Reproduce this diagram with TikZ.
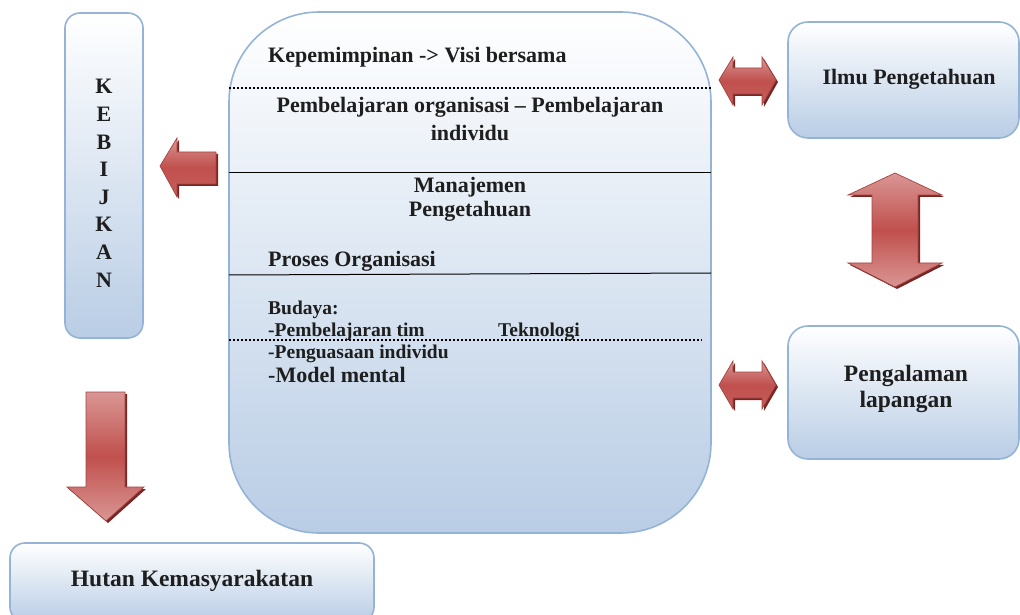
\documentclass[tikz,border=0pt]{standalone}
\usepackage{fontspec}
\setmainfont{Liberation Serif}
\usepackage{xcolor}
\usepackage{tikz}

\definecolor{boxedge}{RGB}{149,179,215}
\definecolor{boxblue}{RGB}{185,205,229}
\definecolor{arrowred}{RGB}{192,80,77}
\definecolor{arrowlight}{RGB}{217,150,148}
\definecolor{arrowdark}{RGB}{120,38,36}
\definecolor{inktext}{RGB}{30,30,30}

\begin{document}
\begin{tikzpicture}[x=1pt, y=1pt,
  panel/.style={draw=boxedge, line width=1.6pt, top color=white, bottom color=boxblue},
  blockarrow/.style={draw=arrowred!85!black, line width=0.7pt, top color=arrowlight, bottom color=arrowlight, middle color=arrowred},
  sidearrow/.style={draw=arrowred!85!black, line width=0.7pt, top color=arrowlight, bottom color=arrowred!80!arrowlight, middle color=arrowred},
  blockshadow/.style={fill=arrowdark, shift={(2,-2)}},
  txt/.style={text=inktext, font=\bfseries\fontsize{22}{26}\selectfont, inner sep=0pt},
  smalltxt/.style={text=inktext, font=\bfseries\fontsize{19.5}{23}\selectfont, inner sep=0pt},
  bigtxt/.style={text=inktext, font=\bfseries\fontsize{23.5}{28}\selectfont, inner sep=0pt}]

\useasboundingbox (0,0) rectangle (1020,614);
\clip (0,0) rectangle (1020,614);

% boxes
\draw[panel, rounded corners=15] (65,276) rectangle (143,601);
\draw[panel, rounded corners=90] (229,81) rectangle (711,602);
\draw[panel, rounded corners=20] (788,476) rectangle (1019,592);
\draw[panel, rounded corners=20] (788,155) rectangle (1019,288);
\draw[panel, rounded corners=15] (10,-8) rectangle (374,71);

% lines inside the big box
\draw[line width=2pt, dash pattern=on 2pt off 2pt] (229,526) -- (711,526);
\draw[line width=1pt] (229,441) -- (711,441);
\draw[line width=1pt] (229,339) -- (711,341);
\draw[line width=2pt, dash pattern=on 2pt off 2pt] (229,274) -- (702,274);

% KEBIJKAN letters
\foreach \ch [count=\i from 0] in {K,E,B,I,J,K,A,N}
  \node[txt, anchor=base] (kb\i) at (104,520-27.6*\i) {\ch};

% texts in the big box
\node[txt, anchor=base west] (visi) at (268,551) {Kepemimpinan -> Visi bersama};
\node[txt, anchor=base] (pembel) at (470,501) {Pembelajaran organisasi – Pembelajaran};
\node[txt, anchor=base] (indiv) at (470,473) {individu};
\node[txt, anchor=base] (manaj) at (470,421) {Manajemen};
\node[txt, anchor=base] (penget) at (470,397) {Pengetahuan};
\node[txt, anchor=base west] (proses) at (268,347) {Proses Organisasi};
\node[smalltxt, anchor=base west] (budaya) at (268,299) {Budaya:};
\node[smalltxt, anchor=base west] (timbel) at (268,277) {-Pembelajaran tim};
\node[smalltxt, anchor=base west] (tekno) at (498,277) {Teknologi};
\node[smalltxt, anchor=base west] (kuasa) at (268,255) {-Penguasaan individu};
\node[txt, anchor=base west] (model) at (268,232) {-Model mental};

% texts in the side boxes
\node[txt, anchor=base] (ilmu) at (909,529) {Ilmu Pengetahuan};
\node[bigtxt, anchor=base] (alam) at (906,233) {Pengalaman};
\node[bigtxt, anchor=base] (lapang) at (906,207) {lapangan};
\node[bigtxt, anchor=base] (hutan) at (192,28) {Hutan Kemasyarakatan};

% block arrows: shadow first, then the arrow
\fill[blockshadow] (160,448) -- (177,476) -- (177,462) -- (216,462) -- (216,430) -- (177,430) -- (177,417) -- cycle;
\path[sidearrow] (160,448) -- (177,476) -- (177,462) -- (216,462) -- (216,430) -- (177,430) -- (177,417) -- cycle;

\fill[blockshadow] (719,534) -- (733,557) -- (733,546) -- (762,546) -- (762,557) -- (776,534) -- (762,509) -- (762,520) -- (733,520) -- (733,509) -- cycle;
\path[sidearrow] (719,534) -- (733,557) -- (733,546) -- (762,546) -- (762,557) -- (776,534) -- (762,509) -- (762,520) -- (733,520) -- (733,509) -- cycle;

\fill[blockshadow] (719,229) -- (733,253) -- (733,242) -- (762,242) -- (762,253) -- (776,229) -- (762,205) -- (762,216) -- (733,216) -- (733,205) -- cycle;
\path[sidearrow] (719,229) -- (733,253) -- (733,242) -- (762,242) -- (762,253) -- (776,229) -- (762,205) -- (762,216) -- (733,216) -- (733,205) -- cycle;

\fill[blockshadow] (895,441) -- (942,419) -- (918,419) -- (918,351) -- (942,351) -- (895,327) -- (848,351) -- (872,351) -- (872,419) -- (848,419) -- cycle;
\path[blockarrow] (895,441) -- (942,419) -- (918,419) -- (918,351) -- (942,351) -- (895,327) -- (848,351) -- (872,351) -- (872,419) -- (848,419) -- cycle;

\fill[blockshadow] (86,222) -- (125,222) -- (125,127) -- (144,127) -- (106,93) -- (67,127) -- (86,127) -- cycle;
\path[blockarrow] (86,222) -- (125,222) -- (125,127) -- (144,127) -- (106,93) -- (67,127) -- (86,127) -- cycle;
\end{tikzpicture}
\end{document}
